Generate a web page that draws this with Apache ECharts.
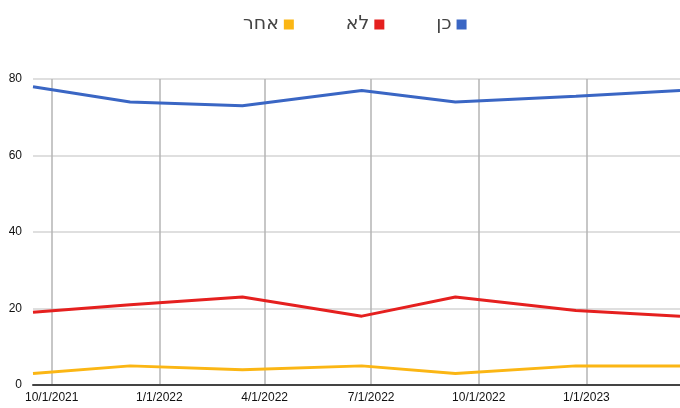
<!DOCTYPE html>
<html>
<head>
<meta charset="utf-8">
<script src="https://cdn.jsdelivr.net/npm/echarts@6/dist/echarts.min.js"></script>
<style>
    html, body { margin: 0; padding: 0; background: #fff; }
    #chart { width: 680px; height: 408px; }
</style>
</head>
<body>
<div id="chart"></div>
<script>
    // survey dates (one per wave)
    var dates = ['2021-09-15', '2021-12-07', '2022-03-13', '2022-06-23', '2022-09-11', '2022-12-23', '2023-03-22'];
    var yes = [78, 74, 73, 77, 74, 75.5, 77];      // כן
    var no = [19, 21, 23, 18, 23, 19.5, 18];       // לא
    var other = [3, 5, 4, 5, 3, 5, 5];             // אחר
    // quarter ticks shown on the x axis
    var tickDates = ['2021-10-01', '2022-01-01', '2022-04-01', '2022-07-01', '2022-10-01', '2023-01-01'];
    var yTicks = [0, 20, 40, 60, 80];

    // days since epoch (UTC) so the x axis can be a plain value axis
    function day(s) {
        var p = s.split('-');
        return Date.UTC(+p[0], +p[1] - 1, +p[2]) / 86400000;
    }
    function pairs(vals) {
        return dates.map(function (d, i) { return [day(d), vals[i]]; });
    }
    var tickDays = tickDates.map(day);

    var font = '"Liberation Sans", "DejaVu Sans", Arial, sans-serif';
    var myChart = echarts.init(document.getElementById('chart'));
    myChart.setOption({
        animation: false,
        color: ['#3a66c4', '#e5201f', '#fbb614'],
        legend: {
            left: 238,
            top: 10,
            align: 'right',
            icon: 'rect',
            itemWidth: 10,
            itemHeight: 10,
            itemGap: 52,
            textStyle: { fontSize: 19, color: '#444', fontFamily: '"DejaVu Sans", sans-serif' },
            data: ['אחר', 'לא', 'כן']
        },
        grid: { left: 33, right: 0, top: 79, bottom: 23 },
        xAxis: {
            type: 'value',
            min: day(dates[0]),
            max: day(dates[dates.length - 1]),
            axisLine: { show: true, lineStyle: { color: '#444', width: 2 } },
            axisTick: { show: false, customValues: tickDays },
            axisLabel: {
                customValues: tickDays,
                showMinLabel: true,
                showMaxLabel: true,
                color: '#111',
                fontSize: 12,
                fontFamily: font,
                margin: 7,
                formatter: function (v) {
                    var d = new Date(v * 86400000);
                    return (d.getUTCMonth() + 1) + '/' + d.getUTCDate() + '/' + d.getUTCFullYear();
                }
            },
            splitLine: { show: true, lineStyle: { color: '#b4b4b4', width: 1.5 } }
        },
        yAxis: {
            type: 'value',
            min: yTicks[0],
            max: yTicks[yTicks.length - 1],
            interval: 20,
            axisLine: { show: false },
            axisTick: { show: false },
            axisLabel: { color: '#111', fontSize: 12, fontFamily: font, margin: 11 },
            splitLine: { lineStyle: { color: '#d4d4d4', width: 1.5 } }
        },
        series: [
            { name: 'כן', type: 'line', data: pairs(yes), showSymbol: false, lineStyle: { width: 3 } },
            { name: 'לא', type: 'line', data: pairs(no), showSymbol: false, lineStyle: { width: 3 } },
            { name: 'אחר', type: 'line', data: pairs(other), showSymbol: false, lineStyle: { width: 3 } }
        ]
    });
</script>
</body>
</html>
